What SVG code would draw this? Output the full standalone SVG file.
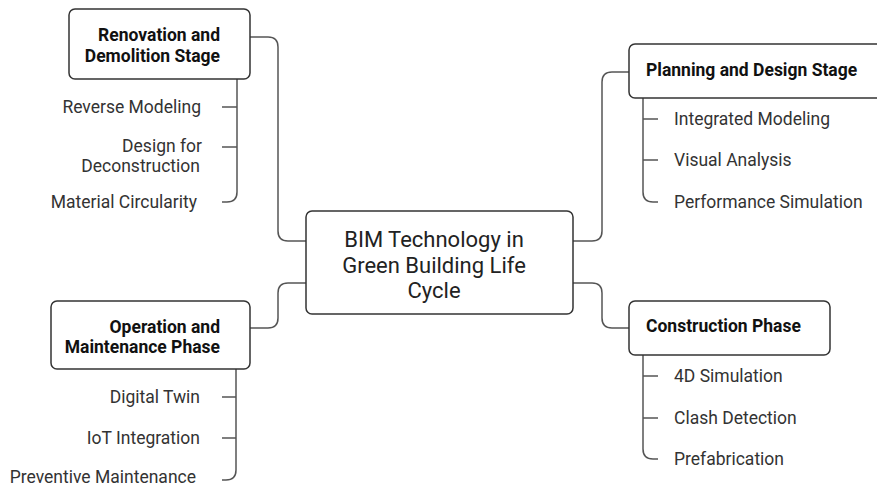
<svg xmlns="http://www.w3.org/2000/svg" width="877" height="486" viewBox="0 0 877 486">
<style>
.box{fill:#fff;stroke:#333;stroke-width:1.5}
.con{fill:none;stroke:#555;stroke-width:1.5}
.t{font-family:Roboto,"Liberation Sans",sans-serif;fill:#333;font-size:17.5px}
.b{font-family:Roboto,"Liberation Sans",sans-serif;fill:#111;font-size:17.5px;font-weight:bold}
.c{font-family:Roboto,"Liberation Sans",sans-serif;fill:#222;font-size:22px}
</style>
<rect width="877" height="486" fill="#fff"/>
<g id="connectors">
<path class="con" d="M250,37 H268 Q278,37 278,47 V231 Q278,241 288,241 H306"/>
<path class="con" d="M629,72 H612 Q602,72 602,82 V231 Q602,241 592,241 H573"/>
<path class="con" d="M250,328 H268 Q278,328 278,318 V293 Q278,283 288,283 H306"/>
<path class="con" d="M573,283 H592 Q602,283 602,293 V318 Q602,328 612,328 H629"/>
<path class="con" d="M237,79 V192 Q237,202 227,202 H222 M222,107 H237 M222,147 H237"/>
<path class="con" d="M236,369 V470 Q236,480 226,480 H222 M222,397 H236 M222,438 H236"/>
<path class="con" d="M643,98 V192 Q643,202 653,202 H658 M643,119 H658 M643,160 H658"/>
<path class="con" d="M643,355 V449 Q643,459 653,459 H658 M643,376 H658 M643,418 H658"/>
</g>
<g id="center">
<rect class="box" x="306" y="211" width="267" height="103" rx="6"/>
<text class="c" text-anchor="middle"><tspan x="434" y="247">BIM Technology in</tspan><tspan x="434" y="273">Green Building Life</tspan><tspan x="434" y="298">Cycle</tspan></text>
</g>
<g id="renovation">
<rect class="box" x="69" y="9" width="181" height="70" rx="6"/>
<text class="b" text-anchor="end"><tspan x="220" y="41">Renovation and</tspan><tspan x="220" y="62">Demolition Stage</tspan></text>
</g>
<g id="renovation-items" text-anchor="end">
<text class="t" x="201" y="113">Reverse Modeling</text>
<text class="t" x="202" y="152">Design for</text>
<text class="t" x="200" y="172">Deconstruction</text>
<text class="t" x="197" y="208">Material Circularity</text>
</g>
<g id="planning">
<rect class="box" x="629" y="44" width="260" height="54" rx="6"/>
<text class="b" x="646" y="76">Planning and Design Stage</text>
</g>
<g id="planning-items">
<text class="t" x="674" y="125">Integrated Modeling</text>
<text class="t" x="674" y="166">Visual Analysis</text>
<text class="t" x="674" y="208">Performance Simulation</text>
</g>
<g id="operation">
<rect class="box" x="51" y="301" width="199" height="68" rx="6"/>
<text class="b" text-anchor="end"><tspan x="220" y="333">Operation and</tspan><tspan x="220" y="353">Maintenance Phase</tspan></text>
</g>
<g id="operation-items" text-anchor="end">
<text class="t" x="200" y="403">Digital Twin</text>
<text class="t" x="200" y="444">IoT Integration</text>
<text class="t" x="196" y="483">Preventive Maintenance</text>
</g>
<g id="construction">
<rect class="box" x="629" y="301" width="201" height="54" rx="6"/>
<text class="b" x="646" y="332">Construction Phase</text>
</g>
<g id="construction-items">
<text class="t" x="674" y="382">4D Simulation</text>
<text class="t" x="674" y="424">Clash Detection</text>
<text class="t" x="674" y="465">Prefabrication</text>
</g>
</svg>
